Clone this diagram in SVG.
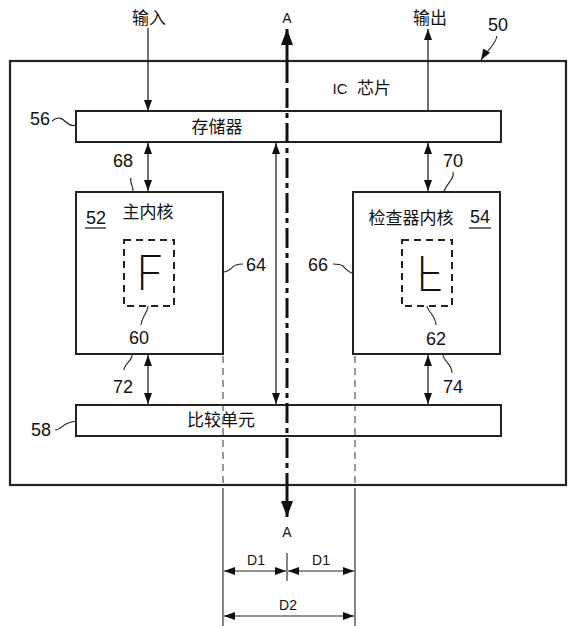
<svg xmlns="http://www.w3.org/2000/svg" width="578" height="626" viewBox="0 0 578 626">
<defs>
<marker id="ah" markerUnits="userSpaceOnUse" markerWidth="11" markerHeight="8" refX="11" refY="4" orient="auto-start-reverse"><path d="M0,0 L11,4 L0,8 z" fill="#111"/></marker>
<marker id="ahb" markerUnits="userSpaceOnUse" markerWidth="16" markerHeight="12" refX="16" refY="6" orient="auto-start-reverse"><path d="M0,0 L16,6 L0,12 z" fill="#111"/></marker>
<style>
.box{fill:#fff;stroke:#222;stroke-width:2}
.ln{fill:none;stroke:#222;stroke-width:1.3}
.ld{fill:none;stroke:#222;stroke-width:1.1}
.t{font-family:"Liberation Sans",Arial,sans-serif;font-size:18px;fill:#111;text-anchor:middle;dominant-baseline:central}
.s{font-size:14px}
.c{font-family:"Liberation Sans","Noto Sans CJK SC",sans-serif;font-size:17px;fill:#111;text-anchor:middle;dominant-baseline:central}
.big{font-family:Inter,"Liberation Sans",sans-serif;font-size:48px;font-weight:200;fill:#111;text-anchor:middle}
.dash{fill:none;stroke:#222;stroke-width:2;stroke-dasharray:7 5}
</style>
</defs>
<rect width="578" height="626" fill="#fff"/>
<g id="chip">
<rect x="10" y="61" width="556" height="424" fill="#fff" stroke="#222" stroke-width="2.2"/>
<text class="t" x="340" y="88" style="font-size:15px">IC</text>
<text class="c" x="374" y="88">芯片</text>
<text class="t" x="498" y="25">50</text>
</g>
<g id="memory">
<rect class="box" x="76" y="111" width="425" height="31"/>
<text class="c" x="217" y="127">存储器</text>
<text class="t" x="40" y="119">56</text>
</g>
<g id="compare">
<rect class="box" x="76" y="405" width="425" height="31"/>
<text class="c" x="221" y="420">比较单元</text>
<text class="t" x="41" y="430">58</text>
</g>
<g id="main-core">
<rect class="box" x="76" y="192" width="147" height="162"/>
<text class="c" x="148" y="212">主内核</text>
<text class="t" x="96" y="218">52</text>
<line x1="85" y1="228" x2="106" y2="228" stroke="#222" stroke-width="1.3"/>
<rect class="dash" x="124" y="240" width="50" height="66"/>
<text class="big" x="150" y="290">F</text>
<text class="t" x="139" y="338">60</text>
</g>
<g id="checker-core">
<rect class="box" x="353" y="192" width="147" height="162"/>
<text class="c" x="411" y="218">检查器内核</text>
<text class="t" x="480" y="217">54</text>
<line x1="469" y1="228" x2="491" y2="228" stroke="#222" stroke-width="1.3"/>
<rect class="dash" x="402" y="240" width="50" height="66"/>
<text class="big" x="430" y="-256" transform="scale(1,-1)">F</text>
<text class="t" x="436" y="339">62</text>
</g>
<g id="labels">
<text class="c" x="149" y="18">输入</text>
<text class="c" x="430" y="18">输出</text>
<text class="t s" x="287" y="18">A</text>
<text class="t s" x="287" y="532">A</text>
<text class="t" x="123" y="161">68</text>
<text class="t" x="453" y="161">70</text>
<text class="t" x="123" y="387">72</text>
<text class="t" x="453" y="387">74</text>
<text class="t" x="256" y="265">64</text>
<text class="t" x="318" y="265">66</text>
<text class="t s" x="256" y="560">D1</text>
<text class="t s" x="321" y="560">D1</text>
<text class="t s" x="288" y="605">D2</text>
</g>
<g id="connectors">
<line class="ln" x1="148" y1="28" x2="148" y2="111" marker-end="url(#ah)"/>
<line class="ln" x1="428" y1="111" x2="428" y2="29" marker-end="url(#ah)"/>
<line class="ln" x1="148" y1="143" x2="148" y2="191" marker-start="url(#ah)" marker-end="url(#ah)"/>
<line class="ln" x1="428" y1="143" x2="428" y2="191" marker-start="url(#ah)" marker-end="url(#ah)"/>
<line class="ln" x1="148" y1="355" x2="148" y2="404" marker-start="url(#ah)" marker-end="url(#ah)"/>
<line class="ln" x1="428" y1="355" x2="428" y2="404" marker-start="url(#ah)" marker-end="url(#ah)"/>
<line class="ln" x1="276" y1="143" x2="276" y2="404" marker-start="url(#ah)" marker-end="url(#ah)"/>
<line x1="287" y1="78" x2="287" y2="29" stroke="#111" stroke-width="3" marker-end="url(#ahb)"/>
<line x1="287" y1="78" x2="287" y2="485" stroke="#111" stroke-width="3" stroke-dasharray="5 5 20 5"/>
<line x1="287" y1="485" x2="287" y2="517" stroke="#111" stroke-width="3" marker-end="url(#ahb)"/>
<line x1="223" y1="356" x2="223" y2="485" stroke="#333" stroke-width="1" stroke-dasharray="7 5"/>
<line x1="355" y1="356" x2="355" y2="485" stroke="#333" stroke-width="1" stroke-dasharray="7 5"/>
<line class="ld" x1="223" y1="488" x2="223" y2="626"/>
<line class="ld" x1="355" y1="488" x2="355" y2="626"/>
<line class="ld" x1="287" y1="553" x2="287" y2="581"/>
<line class="ld" x1="224" y1="571" x2="286" y2="571" marker-start="url(#ah)" marker-end="url(#ah)"/>
<line class="ld" x1="288" y1="571" x2="354" y2="571" marker-start="url(#ah)" marker-end="url(#ah)"/>
<line class="ld" x1="224" y1="616" x2="354" y2="616" marker-start="url(#ah)" marker-end="url(#ah)"/>
<path class="ld" d="M497,36 C495,46 487,50 481,60" marker-end="url(#ah)"/>
<path class="ld" d="M52,121 C58,116 62,118 66,122 C70,126 73,126 76,125"/>
<path class="ld" d="M55,430 C60,430 62,426 66,424 C70,422 73,422 76,421"/>
<path class="ld" d="M131,178 C129,183 134,186 133,191"/>
<path class="ld" d="M453,172 C455,178 448,182 444,191"/>
<path class="ld" d="M223,272 C230,272 232,266 236,265 C239,264 241,264 243,264"/>
<path class="ld" d="M333,264 C337,264 340,264 343,266 C346,269 349,273 353,273"/>
<path class="ld" d="M148,306 C148,312 142,316 141,325"/>
<path class="ld" d="M427,306 C428,312 436,316 436,325"/>
<path class="ld" d="M132,355 C133,360 124,364 124,370"/>
<path class="ld" d="M443,355 C444,362 452,364 452,373"/>
</g>
</svg>
